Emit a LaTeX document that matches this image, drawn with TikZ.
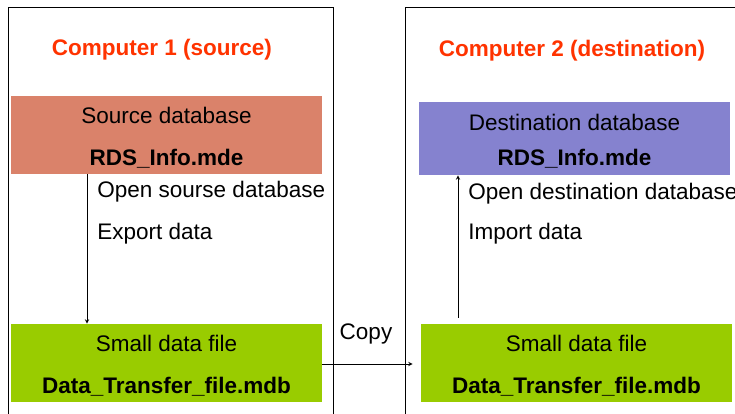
\documentclass[tikz,border=0pt]{standalone}
\usepackage{fontspec}
\setmainfont{Liberation Sans}
\usetikzlibrary{positioning}
\definecolor{srcred}{HTML}{DA826A}
\definecolor{dstblue}{HTML}{8582CF}
\definecolor{filegreen}{HTML}{99CC00}
\definecolor{titlered}{HTML}{FF3300}

\begin{document}
\begin{tikzpicture}[x=1pt, y=-1pt, >=stealth, line width=0.9pt,
  box/.style={minimum width=311pt, minimum height=78pt, inner sep=0pt, align=center,
    font=\fontsize{22.5}{42}\selectfont},
  title/.style={font=\fontsize{22.5}{27}\selectfont\bfseries, text=titlered},
  lbl/.style={anchor=west, inner sep=0pt, font=\fontsize{22.5}{27}\selectfont}]
  \useasboundingbox (0,0) rectangle (735,414);
  \clip (0,0) rectangle (735,414);
  % the two computers
  \draw (8,7) rectangle (333,440);
  \draw (405,7) rectangle (760,440);
  \node[title] (comp1) at (162,50) {Computer 1 (source)};
  \node[title] (comp2) at (572,51) {Computer 2 (destination)};
  % databases
  \node[box, fill=srcred] (srcdb) at (166.5,135) {\rule{0pt}{21pt}Source database\\\textbf{RDS\_Info.mde}};
  \node[box, fill=dstblue, minimum height=73pt, font=\fontsize{22.5}{35}\selectfont]
    (dstdb) at (574.5,138.5) {\rule{0pt}{21pt}Destination database\\\textbf{RDS\_Info.mde}};
  % data files
  \node[box, fill=filegreen] (smallsrc) at (166.5,363) {\rule{0pt}{21pt}Small data file\\\textbf{Data\_Transfer\_file.mdb}};
  \node[box, fill=filegreen] (smalldst) at (576.5,363) {\rule{0pt}{21pt}Small data file\\\textbf{Data\_Transfer\_file.mdb}};
  % export on computer 1
  \draw[->] ([xshift=-79.5pt]srcdb.south) -- ([xshift=-79.5pt]smallsrc.north);
  \node[lbl] (opensrc) at (97,192) {Open sourse database};
  \node[lbl] (export) at (97,234) {Export data};
  % copy between computers
  \draw[->, shorten >=8pt] ([yshift=-1pt]smallsrc.east) -- ([yshift=-1pt]smallsrc.east -| smalldst.west);
  \node[lbl, anchor=center] (copy) at (366,334) {Copy};
  % import on computer 2
  \draw[->] ([xshift=-118.5pt, yshift=6pt]smalldst.north) -- ([xshift=-116.5pt]dstdb.south);
  \node[lbl] (opendst) at (468,194) {Open destination database};
  \node[lbl] (import) at (468,234) {Import data};
\end{tikzpicture}
\end{document}
